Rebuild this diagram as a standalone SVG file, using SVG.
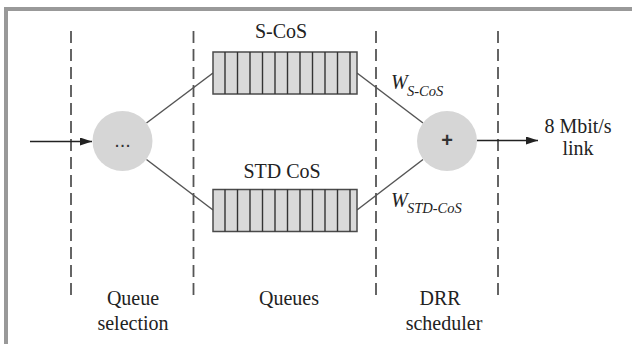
<svg xmlns="http://www.w3.org/2000/svg" width="632" height="344" viewBox="0 0 632 344">
<style>
text{font-family:'Liberation Serif','Times New Roman','DejaVu Serif',serif;fill:#222}
.lbl{font-size:20px;text-anchor:middle}
.it{font-style:italic}
.dash{stroke:#555;stroke-width:1.8;stroke-dasharray:12 6;fill:none}
.conn{stroke:#555;stroke-width:1.5;fill:none}
.box{fill:#d9d9d9;stroke:#4a4a4a;stroke-width:1.5}
.div{stroke:#333;stroke-width:1.4}
.node{fill:#d6d6d6}
</style>
<defs>
<marker id="ah" viewBox="0 0 12 8" refX="12" refY="4" markerWidth="12" markerHeight="8" markerUnits="userSpaceOnUse" orient="auto">
<path d="M0,0 L12,4 L0,8 Z" fill="#222"/>
</marker>
<g id="cells">
<line class="div" x1="225" y1="0" x2="225" y2="42"/>
<line class="div" x1="237.5" y1="0" x2="237.5" y2="42"/>
<line class="div" x1="250" y1="0" x2="250" y2="42"/>
<line class="div" x1="262.5" y1="0" x2="262.5" y2="42"/>
<line class="div" x1="275" y1="0" x2="275" y2="42"/>
<line class="div" x1="287.5" y1="0" x2="287.5" y2="42"/>
<line class="div" x1="300" y1="0" x2="300" y2="42"/>
<line class="div" x1="312.5" y1="0" x2="312.5" y2="42"/>
<line class="div" x1="325" y1="0" x2="325" y2="42"/>
<line class="div" x1="337.5" y1="0" x2="337.5" y2="42"/>
<line class="div" x1="350" y1="0" x2="350" y2="42"/>
</g>
</defs>
<rect width="632" height="344" fill="#fff"/>
<rect x="4" y="7" width="628" height="4" fill="#999"/>
<rect x="4" y="7" width="4" height="337" fill="#999"/>
<g id="separators">
<line class="dash" x1="71" y1="31" x2="71" y2="295"/>
<line class="dash" x1="193.5" y1="31" x2="193.5" y2="295"/>
<line class="dash" x1="376" y1="31" x2="376" y2="295"/>
<line class="dash" x1="498" y1="31" x2="498" y2="295"/>
</g>
<g id="connectors">
<line class="conn" x1="146.5" y1="123" x2="213" y2="73"/>
<line class="conn" x1="146.5" y1="159.5" x2="213" y2="210"/>
<line class="conn" x1="357" y1="73" x2="423" y2="123"/>
<line class="conn" x1="357" y1="210" x2="423" y2="159.5"/>
<line x1="30" y1="141.5" x2="92" y2="141.5" stroke="#222" stroke-width="1.6" marker-end="url(#ah)"/>
<line x1="477" y1="140.5" x2="538" y2="140.5" stroke="#222" stroke-width="1.6" marker-end="url(#ah)"/>
</g>
<g id="queue-selection">
<circle class="node" cx="122.5" cy="141" r="30"/>
<text x="122.5" y="147" font-size="20" text-anchor="middle" style="font-family:'Liberation Sans',sans-serif;fill:#333">...</text>
</g>
<g id="s-cos">
<rect class="box" x="213" y="52" width="144" height="42"/>
<use href="#cells" y="52"/>
<text class="lbl" x="281" y="38" font-size="21">S-CoS</text>
</g>
<g id="std-cos">
<rect class="box" x="213" y="189.5" width="144" height="42"/>
<use href="#cells" y="189.5"/>
<text class="lbl" x="282" y="178">STD CoS</text>
</g>
<g id="drr">
<circle class="node" cx="447" cy="141" r="30"/>
<text x="447" y="147" font-size="20" text-anchor="middle" style="font-family:'Liberation Sans',sans-serif;font-weight:bold;fill:#333">+</text>
</g>
<g id="weights">
<text class="it" x="391" y="89" font-size="20">W</text>
<text class="it" x="407" y="96" font-size="14.5">S-CoS</text>
<text class="it" x="391" y="206.5" font-size="20">W</text>
<text class="it" x="407" y="213" font-size="14.5">STD-CoS</text>
</g>
<g id="link">
<text class="lbl" x="578" y="133">8 Mbit/s</text>
<text class="lbl" x="578" y="155">link</text>
</g>
<g id="stage-labels">
<text class="lbl" x="133" y="305">Queue</text>
<text class="lbl" x="133" y="330">selection</text>
<text class="lbl" x="289" y="305">Queues</text>
<text class="lbl" x="440" y="305">DRR</text>
<text class="lbl" x="444" y="330">scheduler</text>
</g>
</svg>
